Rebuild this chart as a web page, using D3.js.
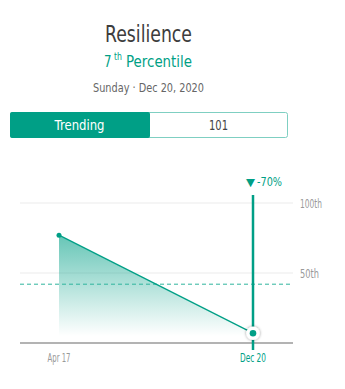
<!DOCTYPE html>
<html><head><meta charset="utf-8">
<script src="https://cdn.jsdelivr.net/npm/d3@7"></script>
<style>
html,body{margin:0;padding:0;background:#fff;}
svg{display:block;font-family:"DejaVu Sans",sans-serif;}
</style></head>
<body><svg id="c" width="345" height="389"></svg>
<script>
const dates = ["2020-04-17", "2020-12-20"];
const values = [77, 7];
const yTicks = [50, 100];
const yTickLabels = ["50th", "100th"];
const xTickLabels = ["Apr 17", "Dec 20"];
const average = 42;
const changeLabel = "-70%";
const title = "Resilience";
const rankNum = "7";
const rankSup = "th";
const rankWord = "Percentile";
const dateLine = "Sunday · Dec 20, 2020";
const tabs = ["Trending", "101"];

const teal = "#009f86";
const svg = d3.select("#c");
const parse = d3.timeParse("%Y-%m-%d");
const data = dates.map((d, i) => ({date: parse(d), value: values[i]}));

function fit(sel, w) { return sel.attr("textLength", w).attr("lengthAdjust", "spacingAndGlyphs"); }

// header
fit(svg.append("text").attr("x", 148.5).attr("y", 42).attr("text-anchor", "middle")
  .attr("font-size", 23.5).attr("fill", "#3d3d3d").text(title), 87);
fit(svg.append("text").attr("x", 104).attr("y", 67).attr("font-size", 16.5).attr("fill", teal).text(rankNum), 7.5);
fit(svg.append("text").attr("x", 114).attr("y", 60).attr("font-size", 10).attr("fill", teal).text(rankSup), 8);
fit(svg.append("text").attr("x", 126).attr("y", 67).attr("font-size", 16.5).attr("fill", teal).text(rankWord), 66);
fit(svg.append("text").attr("x", 148.5).attr("y", 92).attr("text-anchor", "middle")
  .attr("font-size", 11.5).attr("fill", "#666").text(dateLine), 111);

// tabs
const tabX = d3.scaleBand().domain(tabs).range([10, 288]);
svg.append("rect").attr("x", 10.5).attr("y", 112.5).attr("width", 277).attr("height", 25)
  .attr("rx", 2).attr("fill", "#fff").attr("stroke", "#7fcfc2");
svg.append("rect").attr("x", tabX(tabs[0])).attr("y", 112).attr("width", tabX.bandwidth() + 1)
  .attr("height", 26).attr("rx", 2).attr("fill", teal);
const tabW = [50, 19];
tabs.forEach((t, i) => {
  fit(svg.append("text").attr("x", tabX(t) + tabX.bandwidth() / 2).attr("y", 130)
    .attr("text-anchor", "middle").attr("font-size", 13.5)
    .attr("fill", i === 0 ? "#fff" : "#444").text(t), tabW[i]);
});

// chart
const x = d3.scaleTime().domain(d3.extent(data, d => d.date)).range([59, 253]);
const y = d3.scaleLinear().domain([0, 100]).range([343, 203]);
const x0 = 20, x1 = 293;

const defs = svg.append("defs");
const grad = defs.append("linearGradient").attr("id", "g").attr("x1", 0).attr("x2", 0)
  .attr("gradientUnits", "userSpaceOnUse").attr("y1", y(values[0])).attr("y2", y(5));
grad.append("stop").attr("offset", 0).attr("stop-color", teal).attr("stop-opacity", 0.6);
grad.append("stop").attr("offset", 1).attr("stop-color", teal).attr("stop-opacity", 0);
const filt = defs.append("filter").attr("id", "sh").attr("x", "-50%").attr("y", "-50%").attr("width", "200%").attr("height", "200%");
filt.append("feDropShadow").attr("dx", 0).attr("dy", 0).attr("stdDeviation", 1.5).attr("flood-color", "#000").attr("flood-opacity", 0.45);

// gridlines
const yW = [19, 22];
yTicks.forEach((t, i) => {
  svg.append("line").attr("x1", x0).attr("x2", x1).attr("y1", y(t)).attr("y2", y(t))
    .attr("stroke", "#ebebeb").attr("stroke-width", 1);
  fit(svg.append("text").attr("x", 300).attr("y", y(t) + 4.5).attr("font-size", 11.5)
    .attr("fill", "#999").text(yTickLabels[i]), yW[i]);
});

// area
svg.append("path").datum(data)
  .attr("d", d3.area().x(d => x(d.date)).y0(y(0)).y1(d => y(d.value)))
  .attr("fill", "url(#g)");

// average dashed
svg.append("line").attr("x1", x0).attr("x2", x1).attr("y1", y(average)).attr("y2", y(average))
  .attr("stroke", "#2fb49d").attr("stroke-width", 1).attr("stroke-dasharray", "4,3");

// baseline
svg.append("line").attr("x1", x0).attr("x2", x1).attr("y1", y(0)).attr("y2", y(0))
  .attr("stroke", "#9a9a9a").attr("stroke-width", 1.5);

// line
svg.append("path").datum(data)
  .attr("d", d3.line().x(d => x(d.date)).y(d => y(d.value)))
  .attr("fill", "none").attr("stroke", teal).attr("stroke-width", 1.3);

// first point
svg.append("circle").attr("cx", x(data[0].date)).attr("cy", y(data[0].value)).attr("r", 2.5).attr("fill", teal);

// vertical marker
const last = data[data.length - 1];
svg.append("line").attr("x1", x(last.date)).attr("x2", x(last.date)).attr("y1", 195).attr("y2", 350)
  .attr("stroke", teal).attr("stroke-width", 2.5);
svg.append("circle").attr("cx", x(last.date)).attr("cy", y(last.value)).attr("r", 6.7)
  .attr("fill", "#fff").attr("filter", "url(#sh)");
svg.append("circle").attr("cx", x(last.date)).attr("cy", y(last.value)).attr("r", 3.3).attr("fill", teal);

// change label
fit(svg.append("text").attr("x", 246).attr("y", 185.5).attr("font-size", 11)
  .attr("fill", teal).text("▼"), 9);
fit(svg.append("text").attr("x", 257).attr("y", 185.5).attr("font-size", 12.5)
  .attr("fill", teal).text(changeLabel), 25);

// x labels
const xW = [23, 26];
data.forEach((d, i) => {
  fit(svg.append("text").attr("x", x(d.date)).attr("y", 362).attr("text-anchor", "middle")
    .attr("font-size", 12).attr("fill", i === data.length - 1 ? teal : "#999").text(xTickLabels[i]), xW[i]);
});
</script></body></html>
